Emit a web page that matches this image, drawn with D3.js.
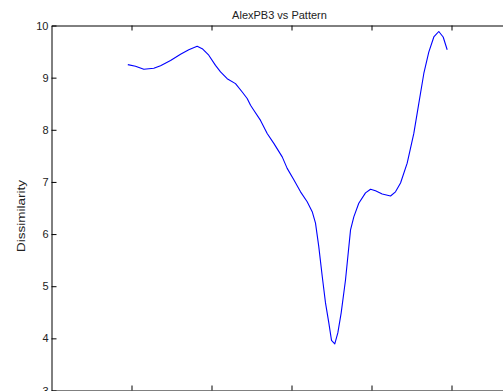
<!DOCTYPE html>
<html>
<head>
<meta charset="utf-8">
<script src="https://cdn.jsdelivr.net/npm/d3@7"></script>
<style>
  body { margin: 0; background: #fff; }
  svg { display: block; }
  text { font-family: "Liberation Sans", Arial, Helvetica, sans-serif; fill: #222; }
</style>
</head>
<body>
<div id="chart"></div>
<script>
// curve (x in tick units, y = dissimilarity)
var xs = [0.954, 1.05, 1.154, 1.279, 1.363, 1.488, 1.613, 1.716, 1.821, 1.884,
    1.966, 2.05, 2.113, 2.196, 2.3, 2.384, 2.446, 2.488, 2.529, 2.613,
    2.696, 2.779, 2.884, 2.946, 3.029, 3.113, 3.196, 3.259, 3.3, 3.341,
    3.384, 3.425, 3.466, 3.5, 3.541, 3.579, 3.621, 3.675, 3.738, 3.779,
    3.841, 3.925, 3.988, 4.05, 4.134, 4.238, 4.3, 4.363, 4.446, 4.529,
    4.591, 4.654, 4.716, 4.779, 4.841, 4.896, 4.946];
var ys = [9.25, 9.22, 9.16, 9.18, 9.23, 9.33, 9.45, 9.535, 9.60, 9.555,
    9.43, 9.235, 9.11, 8.98, 8.885, 8.725, 8.60, 8.47, 8.375, 8.18,
    7.93, 7.74, 7.48, 7.26, 7.04, 6.81, 6.62, 6.43, 6.21, 5.76,
    5.19, 4.68, 4.30, 3.96, 3.895, 4.105, 4.49, 5.12, 6.08, 6.33,
    6.59, 6.79, 6.86, 6.83, 6.77, 6.73, 6.81, 6.98, 7.36, 7.93,
    8.50, 9.08, 9.49, 9.78, 9.885, 9.78, 9.535];
var xTicks = [1, 2, 3, 4, 5];
var yTicks = [3, 4, 5, 6, 7, 8, 9, 10];
var title = "AlexPB3 vs Pattern";
var yLabel = "Dissimilarity";

var width = 503,
    height = 391,
    plotLeft = 51.5,
    plotRight = 531.5,
    plotTop = 25.5,
    plotBottom = 390.5;

var svg = d3.select("#chart")
    .append("svg")
    .attr("width", width)
    .attr("height", height);

var x = d3.scaleLinear().domain([0, 6]).range([plotLeft, plotRight]),
    y = d3.scaleLinear().domain([3, 10]).range([plotBottom, plotTop]);

// axes, MATLAB style: ticks pointing inward, box on
svg.append("g")
    .attr("transform", "translate(" + plotLeft + ",0)")
    .call(d3.axisLeft(y).tickValues(yTicks).tickFormat(d3.format("d"))
        .tickSizeInner(-5).tickSizeOuter(0).tickPadding(3))
    .call(styleAxis)
    .selectAll("text")
    .style("font-size", "11px");

svg.append("g")
    .attr("transform", "translate(" + plotRight + ",0)")
    .call(d3.axisRight(y).tickValues(yTicks).tickSizeInner(-5).tickSizeOuter(0).tickFormat(""))
    .call(styleAxis);

svg.append("g")
    .attr("transform", "translate(0," + plotTop + ")")
    .call(d3.axisTop(x).tickValues(xTicks).tickSizeInner(-5).tickSizeOuter(0).tickFormat(""))
    .call(styleAxis);

svg.append("g")
    .attr("transform", "translate(0," + plotBottom + ")")
    .call(d3.axisBottom(x).tickValues(xTicks).tickSizeInner(-5).tickSizeOuter(0).tickFormat(""))
    .call(styleAxis);

function styleAxis(g) {
    g.select(".domain").attr("stroke", "#000").attr("stroke-width", 1);
    g.selectAll(".tick line").attr("stroke", "#000");
    g.selectAll("text").attr("fill", "#222");
}

var line = d3.line()
    .x(function (d, i) { return x(xs[i]); })
    .y(function (d) { return y(d); });

svg.append("path")
    .datum(ys)
    .attr("d", line)
    .attr("fill", "none")
    .attr("stroke", "#0000ff")
    .attr("stroke-width", 1.1)
    .attr("stroke-linejoin", "round");

svg.append("text")
    .attr("x", 279.5)
    .attr("y", 18.5)
    .attr("text-anchor", "middle")
    .style("font-size", "11px")
    .text(title);

svg.append("text")
    .attr("transform", "translate(24.5,216) rotate(-90)")
    .attr("text-anchor", "middle")
    .attr("textLength", 72)
    .attr("lengthAdjust", "spacingAndGlyphs")
    .style("font-size", "11px")
    .text(yLabel);
</script>
</body>
</html>
